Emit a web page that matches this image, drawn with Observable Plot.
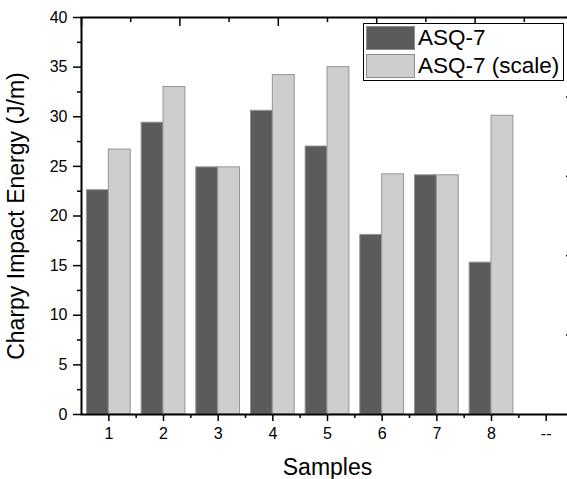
<!DOCTYPE html>
<html>
<head>
<meta charset="utf-8">
<script src="https://cdn.jsdelivr.net/npm/d3@7"></script>
<script src="https://cdn.jsdelivr.net/npm/@observablehq/plot@0.6"></script>
<style>
  body { margin: 0; background: #fff; }
  #wrap { position: relative; width: 567px; height: 479px; overflow: hidden; font-family: "Liberation Sans", Arial, sans-serif; }
  #legend { position: absolute; left: 363px; top: 23px; width: 201px; height: 58px; border: 1px solid #000; box-sizing: border-box; background: #fff; }
  #legend .row { display: flex; align-items: center; height: 28px; }
  #legend .sw { width: 49px; height: 24px; margin-left: 2px; margin-right: 3px; box-sizing: border-box; border: 1px solid #8c8c8c; }
  #legend .lab { font-size: 22.5px; color: #000; line-height: 28px; white-space: nowrap; }
</style>
</head>
<body>
<div id="wrap"></div>
<script>
// ---- data ----
const samples = ["1", "2", "3", "4", "5", "6", "7", "8", "--"];
const seriesNames = ["ASQ-7", "ASQ-7 (scale)"];
const asq7 = [22.6, 29.4, 24.9, 30.6, 27.0, 18.1, 24.1, 15.3];
const asq7Scale = [26.7, 33.0, 24.9, 34.2, 35.0, 24.2, 24.1, 30.1];
const seriesColors = ["#5b5b5b", "#cecece"];
const yMajorTicks = [0, 5, 10, 15, 20, 25, 30, 35, 40];
const yMinorTicks = [2.5, 7.5, 12.5, 17.5, 22.5, 27.5, 32.5, 37.5];
const rightAxisTicks = [8, 16, 24, 32, 40];
const topAxisDomain = [0, 5];
const topMajorTicks = [0, 1, 2, 3, 4, 5];
const topMinorTicks = [0.5, 1.5, 2.5, 3.5, 4.5];
const yLabel = "Charpy Impact Energy (J/m)";
const xLabel = "Samples";

// ---- build table ----
const groupWidth = 0.8;
const rows = [];
[asq7, asq7Scale].forEach((vals, s) => {
  vals.forEach((v, i) => rows.push({pos: i + 1, series: seriesNames[s], s, value: v}));
});
const xDomain = [0.5, samples.length + 0.5];
const majorX = samples.map((_, i) => i + 1);
const minorX = samples.slice(0, -1).map((_, i) => i + 1.5);
const topToX = t => xDomain[0] + (t - topAxisDomain[0]) / (topAxisDomain[1] - topAxisDomain[0]) * (xDomain[1] - xDomain[0]);

const font = "'Liberation Sans', Arial, sans-serif";

const chart = Plot.plot({
  width: 573,
  height: 479,
  marginLeft: 81,
  marginRight: 0,
  marginTop: 17,
  marginBottom: 65,
  style: {maxWidth: "none", fontFamily: font, background: "#fff", color: "#000"},
  x: {domain: xDomain},
  y: {domain: [0, 40]},
  marks: [
    Plot.rectY(rows, {
      x1: d => d.pos - groupWidth / 2 + d.s * groupWidth / 2,
      x2: d => d.pos + d.s * groupWidth / 2,
      y1: 0,
      y2: "value",
      fill: d => seriesColors[d.s],
      stroke: "#959595",
      strokeWidth: 1
    }),
    Plot.frame({stroke: "#000", strokeWidth: 2}),
    // left axis
    Plot.axisY(yMajorTicks, {anchor: "left", tickSize: 8, tickPadding: 6, fontSize: 16, strokeWidth: 1.5, label: null}),
    Plot.axisY(yMinorTicks, {anchor: "left", tickSize: 4, fill: "none", strokeWidth: 1.5, label: null}),
    Plot.axisY({ticks: [], anchor: "left", tickSize: 0, fontSize: 23, label: yLabel, labelAnchor: "center", labelOffset: 74, labelArrow: "none"}),
    // right axis (inward ticks)
    Plot.axisY(rightAxisTicks, {anchor: "right", tickSize: 8, insetRight: 8, fill: "none", strokeWidth: 1.5, label: null}),
    // bottom axis
    Plot.axisX(majorX, {anchor: "bottom", tickSize: 7, tickPadding: 6, fontSize: 16, strokeWidth: 1.5, tickFormat: v => samples[v - 1], label: null}),
    Plot.axisX(minorX, {anchor: "bottom", tickSize: 4, fill: "none", strokeWidth: 1.5, label: null}),
    Plot.axisX({ticks: [], anchor: "bottom", tickSize: 0, fontSize: 23, label: xLabel, labelAnchor: "center", labelOffset: 60, labelArrow: "none"}),
    // top axis (independent linear scale, inward ticks)
    Plot.axisX(topMajorTicks.map(topToX), {anchor: "top", tickSize: 8, insetTop: 8, fill: "none", strokeWidth: 1.5, label: null}),
    Plot.axisX(topMinorTicks.map(topToX), {anchor: "top", tickSize: 4, insetTop: 4, fill: "none", strokeWidth: 1.5, label: null})
  ]
});

const wrap = document.getElementById("wrap");
wrap.appendChild(chart);

// legend
const legend = document.createElement("div");
legend.id = "legend";
seriesNames.forEach((name, i) => {
  const row = document.createElement("div");
  row.className = "row";
  const sw = document.createElement("div");
  sw.className = "sw";
  sw.style.background = seriesColors[i];
  const lab = document.createElement("span");
  lab.className = "lab";
  lab.textContent = name;
  row.appendChild(sw);
  row.appendChild(lab);
  legend.appendChild(row);
});
wrap.appendChild(legend);
</script>
</body>
</html>
